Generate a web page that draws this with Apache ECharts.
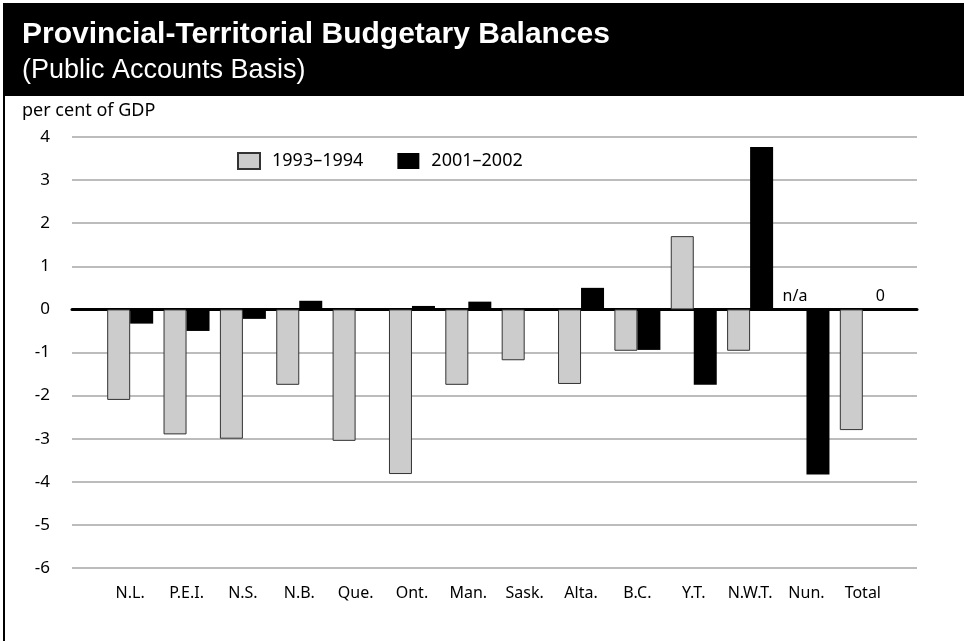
<!DOCTYPE html>
<html>
<head>
<meta charset="utf-8">
<script src="https://cdn.jsdelivr.net/npm/echarts@6/dist/echarts.min.js"></script>
<style>
  html,body{margin:0;padding:0;background:#fff;}
  #chart{width:964px;height:641px;}
</style>
</head>
<body>
<div id="chart"></div>
<script>
// categories and values (per cent of GDP)
var provinces = ['N.L.','P.E.I.','N.S.','N.B.','Que.','Ont.','Man.','Sask.','Alta.','B.C.','Y.T.','N.W.T.','Nun.','Total']
var balance9394 = [-2.1,-2.9,-3.0,-1.75,-3.05,-3.82,-1.75,-1.18,-1.73,-0.96,1.7,-0.96,null,-2.8]
var balance0102 = [-0.33,-0.5,-0.22,0.2,0,0.08,0.18,0,0.5,-0.94,-1.75,3.77,-3.83,0]
var yTicks = [-6,-5,-4,-3,-2,-1,0,1,2,3,4]

var font = 'Noto Sans'

function buildGray(arr){
  return arr.map(function(v){
    if(v===null){
      // Nun. has no 1993-94 figure
      return {value:0,itemStyle:{borderWidth:0},label:{show:true,formatter:'n/a'}}
    }
    return v
  })
}
function buildBlack(arr){
  return arr.map(function(v,i){
    if(provinces[i]==='Total' && v===0){
      return {value:0,label:{show:true,formatter:'0',offset:[6,0]}}
    }
    return v
  })
}

var chart = echarts.init(document.getElementById('chart'))
var option = {
  animation:false,
  graphic:[
    {type:'rect',shape:{x:3,y:3,width:961,height:93},style:{fill:'#000'},z:-10},
    {type:'rect',shape:{x:3,y:96,width:2,height:545},style:{fill:'#000'},z:-10},
    {type:'text',left:22,top:20,style:{text:'Provincial-Territorial Budgetary Balances',fill:'#fff',font:'bold 30px "Liberation Sans"'}},
    {type:'text',left:22,top:57,style:{text:'(Public Accounts Basis)',fill:'#fff',font:'27px "Liberation Sans"'}},
    {type:'text',left:22,top:102,style:{text:'per cent of GDP',fill:'#000',font:'18px "Noto Sans"'}}
  ],
  legend:{
    left:232,
    top:147,
    itemWidth:22,
    itemHeight:16,
    itemGap:34,
    icon:'rect',
    textStyle:{fontFamily:font,fontSize:18,color:'#000',padding:[0,0,0,7]},
    data:['1993–1994','2001–2002']
  },
  grid:[
    {left:72,right:47,top:137,bottom:73},
    {left:102,right:73,top:137,bottom:73}
  ],
  xAxis:[
    {
      type:'category',gridIndex:0,data:provinces,
      axisLine:{onZero:true,lineStyle:{color:'#000',width:3}},
      axisTick:{show:false},axisLabel:{show:false},splitLine:{show:false}
    },
    {
      type:'category',gridIndex:1,data:provinces,
      axisLine:{show:false},axisTick:{show:false},
      axisLabel:{interval:0,margin:17,fontFamily:font,fontSize:16,color:'#000'}
    }
  ],
  yAxis:[
    {
      type:'value',gridIndex:0,min:-6,max:4,interval:1,
      axisLine:{show:false},axisTick:{show:false},
      axisLabel:{margin:22,fontFamily:font,fontSize:17,color:'#000'},
      splitLine:{lineStyle:{color:'#bcbcbc',width:2}}
    },
    {
      type:'value',gridIndex:1,min:-6,max:4,interval:1,
      axisLine:{show:false},axisTick:{show:false},axisLabel:{show:false},splitLine:{show:false}
    }
  ],
  series:[
    {
      name:'1993–1994',type:'bar',xAxisIndex:1,yAxisIndex:1,
      barWidth:23,barGap:'0%',
      itemStyle:{color:'#cccccc',borderColor:'#333',borderWidth:1},
      label:{show:false,position:'top',distance:5,fontFamily:font,fontSize:16,color:'#000'},
      data:buildGray(balance9394)
    },
    {
      name:'2001–2002',type:'bar',xAxisIndex:1,yAxisIndex:1,
      barWidth:23,barGap:'0%',
      itemStyle:{color:'#000'},
      label:{show:false,position:'top',distance:5,fontFamily:font,fontSize:16,color:'#000'},
      data:buildBlack(balance0102)
    }
  ]
}
chart.setOption(option)
window.addEventListener('resize',()=>{
  chart.resize()
})
</script>
</body>
</html>
